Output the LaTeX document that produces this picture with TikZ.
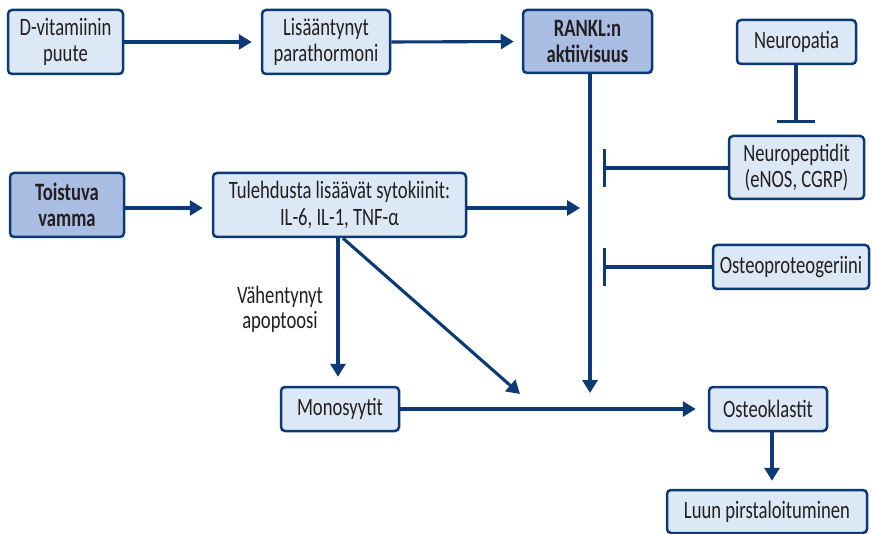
\documentclass[tikz,border=0pt]{standalone}
\usepackage{fontspec}
\setmainfont{Carlito}[FakeStretch=0.745]
\usetikzlibrary{arrows.meta}
\definecolor{lfill}{RGB}{220,232,246}
\definecolor{dfill}{RGB}{170,189,226}
\definecolor{lblue}{RGB}{12,58,118}
\definecolor{txt}{RGB}{35,31,32}
\tikzset{
  box/.style={draw=lblue, line width=2.5pt, rounded corners=4pt, fill=lfill, text=txt,
    align=center, inner sep=0pt, font=\fontsize{25}{26.5}\selectfont},
  dbox/.style={box, fill=dfill, font=\fontsize{25}{26.5}\selectfont\bfseries},
  conn/.style={draw=lblue, line width=3.1pt, -{Triangle[length=13pt,width=15pt]}},
  inhib/.style={draw=lblue, line width=3.1pt, -{Bar[width=38pt,line width=3.1pt]}},
}
\begin{document}
\begin{tikzpicture}[x=1pt,y=-1pt]
\useasboundingbox (0,0) rectangle (872,534);
\fill[white] (0,0) rectangle (872,534);
\node[box, minimum width=115pt, minimum height=64pt] (dvit) at (65.5,42) {D-vitamiinin\\puute};
\node[box, minimum width=128pt, minimum height=64pt] (lisa) at (326,42) {Lisääntynyt\\parathormoni};
\node[dbox, minimum width=129pt, minimum height=63pt] (rankl) at (587.5,41.5) {RANKL:n\\aktiivisuus};
\node[box, minimum width=119pt, minimum height=44pt] (neuro) at (796.5,42) {Neuropatia};
\node[box, minimum width=135pt, minimum height=63pt] (npep) at (796.5,167.5) {Neuropeptidit\\(eNOS, CGRP)};
\node[box, minimum width=156pt, minimum height=44pt] (opg) at (791,267) {Osteoproteogeriini};
\node[dbox, minimum width=114pt, minimum height=64pt] (toist) at (67,205) {Toistuva\\vamma};
\node[box, minimum width=253pt, minimum height=64pt] (tul) at (339.5,205) {Tulehdusta lisäävät sytokiinit:\\IL-6, IL-1, TNF-α};
\node[box, minimum width=118pt, minimum height=44pt] (mono) at (340,409) {Monosyytit};
\node[box, minimum width=118pt, minimum height=44pt] (ostk) at (768,409) {Osteoklastit};
\node[box, minimum width=200pt, minimum height=43pt] (luun) at (767,511.5) {Luun pirstaloituminen};
\node[text=txt, align=center, font=\fontsize{25}{25}\selectfont] (lab) at (280,309) {Vähentynyt\\apoptoosi};

\coordinate (rtip) at (580,208);
\coordinate (rbot) at (590,393);
\coordinate (ntip) at (796,123);
\coordinate (ptip) at (603,168);
\coordinate (otip) at (603,267);
\coordinate (dtip) at (520,394);

\draw[conn, shorten >=9pt] (dvit.east) -- (lisa.west);
\draw[conn, shorten >=8pt] (lisa.east) -- (rankl.west);
\draw[conn, shorten >=9pt] (toist.east |- 0,208) -- (tul.west |- 0,208);
\draw[conn] (tul.east |- rtip) -- (rtip);
\draw[conn] (rankl.south -| rbot) -- (rbot);
\draw[inhib] (neuro.south -| ntip) -- (ntip);
\draw[inhib] (npep.west |- ptip) -- (ptip);
\draw[inhib] (opg.west) -- (otip);
\draw[conn, shorten >=9pt] (tul.south -| 338,0) -- (mono.north -| 338,0);
\draw[conn] (tul.south -| 343,0) -- (dtip);
\draw[conn, shorten >=12pt] (mono.east) -- (ostk.west);
\draw[conn, shorten >=8pt] (ostk.south -| 772,0) -- (luun.north -| 772,0);
\end{tikzpicture}
\end{document}
